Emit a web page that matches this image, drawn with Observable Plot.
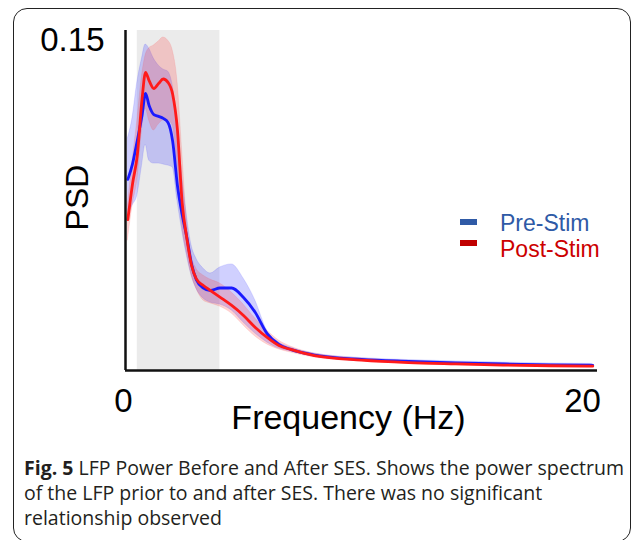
<!DOCTYPE html>
<html>
<head>
<meta charset="utf-8">
<script src="https://cdn.jsdelivr.net/npm/d3@7"></script>
<script src="https://cdn.jsdelivr.net/npm/@observablehq/plot@0.6"></script>
<style>
  html, body { margin: 0; padding: 0; background: #fff; }
  #page { position: relative; width: 634px; height: 540px; overflow: hidden; font-family: "Liberation Sans", Arial, sans-serif; }
  #frame { position: absolute; left: 13px; top: 8px; width: 618px; height: 534px; border: 1.6px solid #222; border-radius: 14px; box-sizing: border-box; }
  #chart { position: absolute; left: 0; top: 0; }
  .leg-sw { position: absolute; width: 17px; height: 6px; }
  .leg-tx { position: absolute; font-size: 23px; line-height: 20px; white-space: nowrap; }
  #caption { position: absolute; left: 24px; top: 455px; font-family: "Open Sans", sans-serif; font-size: 19.5px; line-height: 25px; color: #231f20; white-space: nowrap; }
</style>
</head>
<body>
<div id="page">
  <div id="frame"></div>
  <div id="chart"></div>
  <div class="leg-sw" style="left:460px; top:219px; background:#2f5aa6;"></div>
  <div class="leg-tx" style="left:500px; top:212.5px; color:#2f5aa6;">Pre-Stim</div>
  <div class="leg-sw" style="left:460px; top:240px; background:#c00000;"></div>
  <div class="leg-tx" style="left:500px; top:238.5px; color:#cc0000;">Post-Stim</div>
  <div id="caption"><b>Fig. 5</b> LFP Power Before and After SES. Shows the power spectrum<br>of the LFP prior to and after SES. There was no significant<br>relationship observed</div>
</div>
<script>
// Frequency (Hz)
const freq = [0.1,0.3,0.5,0.7,0.85,1.0,1.2,1.4,1.6,1.8,2.0,2.2,2.4,2.6,2.8,3.0,3.3,3.6,4.0,4.5,5.0,5.5,6.0,6.5,7,8,10,12,14,16,18,19.8];
// Pre-Stim PSD mean and band
const preMean = [0.0843,0.0913,0.1015,0.1125,0.1222,0.1169,0.1129,0.1121,0.1112,0.1094,0.1010,0.0816,0.0688,0.0587,0.0468,0.0401,0.0364,0.0353,0.0364,0.0364,0.0322,0.0256,0.0163,0.0115,0.0093,0.0068,0.0049,0.0040,0.0033,0.0029,0.0025,0.0023];
const preHigh = [0.1024,0.1116,0.1271,0.1376,0.1438,0.1421,0.1376,0.1346,0.1328,0.1319,0.1257,0.1081,0.0860,0.0684,0.0551,0.0494,0.0450,0.0428,0.0454,0.0468,0.0406,0.0309,0.0176,0.0124,0.0101,0.0075,0.0055,0.0046,0.0040,0.0035,0.0031,0.0029];
const preLow = [0.0684,0.0728,0.0772,0.0904,0.0997,0.0926,0.0913,0.0913,0.0909,0.0904,0.0896,0.0750,0.0618,0.0507,0.0419,0.0362,0.0318,0.0300,0.0291,0.0265,0.0212,0.0163,0.0124,0.0097,0.0084,0.0062,0.0044,0.0033,0.0026,0.0022,0.0019,0.0018];
// Post-Stim PSD mean and band
const postMean = [0.0666,0.0825,0.0949,0.1196,0.1315,0.1279,0.1244,0.1266,0.1286,0.1271,0.1218,0.1063,0.0741,0.0582,0.0463,0.0404,0.0375,0.0353,0.0324,0.0287,0.0243,0.0190,0.0146,0.0110,0.0093,0.0066,0.0046,0.0035,0.0029,0.0024,0.0021,0.0019];
const postHigh = [0.0728,0.0926,0.1103,0.1301,0.1390,0.1421,0.1434,0.1451,0.1469,0.1456,0.1412,0.1279,0.0971,0.0662,0.0507,0.0450,0.0419,0.0401,0.0384,0.0344,0.0291,0.0229,0.0176,0.0132,0.0106,0.0075,0.0053,0.0042,0.0035,0.0031,0.0026,0.0024];
const postLow = [0.0574,0.0728,0.0838,0.1059,0.1156,0.1103,0.1059,0.1085,0.1103,0.1103,0.1081,0.0904,0.0640,0.0521,0.0419,0.0362,0.0309,0.0296,0.0282,0.0251,0.0199,0.0150,0.0115,0.0093,0.0079,0.0057,0.0040,0.0029,0.0022,0.0018,0.0015,0.0013];
// Shaded stimulation band (Hz)
const bandStart = [0.5];
const bandEnd = [4];
// Tick labels
const xTicks = [0, 20];
const yTicks = [0.15];
const xLabel = "Frequency (Hz)";
const yLabel = "PSD";

const rows = freq.map((f, i) => ({
  f, preMean: preMean[i], preHigh: preHigh[i], preLow: preLow[i],
  postMean: postMean[i], postHigh: postHigh[i], postLow: postLow[i]
}));
const band = bandStart.map((s, i) => ({start: s, end: bandEnd[i]}));
const curve = "monotone-x";
const font = "'Liberation Sans', Arial, sans-serif";

const chart = Plot.plot({
  width: 634,
  height: 450,
  marginLeft: 125,
  marginRight: 37,
  marginTop: 30,
  marginBottom: 80,
  x: {domain: [0, 20], axis: null},
  y: {domain: [0, 0.15], axis: null},
  style: {background: "transparent", fontFamily: font, color: "#000"},
  marks: [
    Plot.rect(band, {x1: "start", x2: "end", y1: 0, y2: 0.15, fill: "#ebebeb"}),
    Plot.areaY(rows, {x: "f", y1: "preLow", y2: "preHigh", fill: "#3a3aff", fillOpacity: 0.24, stroke: "#3a3aff", strokeOpacity: 0.15, strokeWidth: 1, curve}),
    Plot.areaY(rows, {x: "f", y1: "postLow", y2: "postHigh", fill: "#ff3a3a", fillOpacity: 0.22, stroke: "#ff3a3a", strokeOpacity: 0.12, strokeWidth: 1, curve}),
    Plot.line(rows, {x: "f", y: "preMean", stroke: "#1a1aff", strokeWidth: 2.8, curve}),
    Plot.line(rows, {x: "f", y: "postMean", stroke: "#ff1a1a", strokeWidth: 2.8, curve}),
    Plot.ruleY([0], {stroke: "#111", strokeWidth: 2.5}),
    Plot.ruleX([0], {y1: 0, y2: 0.15, stroke: "#111", strokeWidth: 2.5}),
    Plot.text(xTicks.slice(0, 1), {x: d => d, y: 0, dy: 31, dx: -2, text: d => String(d), fontSize: 33, fill: "#000"}),
    Plot.text(xTicks.slice(1), {x: d => d, y: 0, dy: 31, dx: -15, text: d => String(d), fontSize: 33, fill: "#000"}),
    Plot.text(yTicks, {x: 0, y: d => d, dx: -21, dy: 10, textAnchor: "end", text: d => String(d), fontSize: 33, fill: "#000"}),
    Plot.text([xLabel], {frameAnchor: "bottom", textAnchor: "middle", dx: -13, dy: 58, text: d => d, fontSize: 34, fill: "#000"}),
    Plot.text([yLabel], {frameAnchor: "left", textAnchor: "middle", dx: -48, dy: -3, rotate: -90, text: d => d, fontSize: 32, fill: "#000"})
  ]
});
document.getElementById("chart").appendChild(chart);
</script>
</body>
</html>
